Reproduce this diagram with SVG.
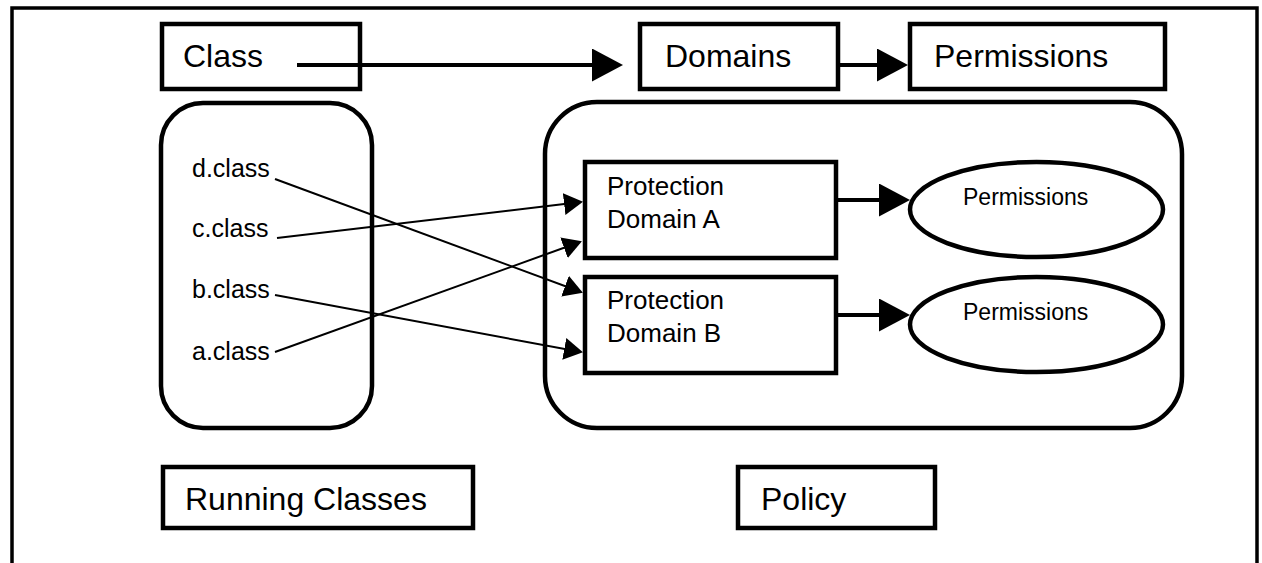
<svg xmlns="http://www.w3.org/2000/svg" width="1262" height="563" viewBox="0 0 1262 563">
  <style>
    .box { fill: #fff; stroke: #000; stroke-width: 4.5; }
    .rbox { fill: #fff; stroke: #000; stroke-width: 4.5; }
    .ell { fill: #fff; stroke: #000; stroke-width: 4.5; }
    .big { font-family: "Liberation Sans", Arial, sans-serif; font-size: 32px; fill: #000; }
    .mid { font-family: "Liberation Sans", Arial, sans-serif; font-size: 26px; fill: #000; }
    .sm { font-family: "Liberation Sans", Arial, sans-serif; font-size: 23px; fill: #000; }
    .cls { font-family: "Liberation Sans", Arial, sans-serif; font-size: 25px; fill: #000; }
    .thick { stroke: #000; stroke-width: 4; fill: none; marker-end: url(#bigArrow); }
    .thin { stroke: #000; stroke-width: 2; fill: none; marker-end: url(#smallArrow); }
  </style>
  <defs>
    <marker id="bigArrow" markerUnits="userSpaceOnUse" markerWidth="31" markerHeight="33" refX="27" refY="16.5" orient="auto">
      <path d="M0,0 L31,16.5 L0,33 Z" fill="#000"/>
    </marker>
    <marker id="smallArrow" markerUnits="userSpaceOnUse" markerWidth="19" markerHeight="22" refX="17" refY="11" orient="auto">
      <path d="M0,0 L19,11 L0,22 Z" fill="#000"/>
    </marker>
  </defs>
  <rect x="0" y="0" width="1262" height="563" fill="#fff"/>
  <g id="frame">
    <rect x="12" y="8" width="1245" height="620" fill="none" stroke="#000" stroke-width="3.5"/>
  </g>
  <g id="running-classes-container">
    <rect class="rbox" x="161" y="103" width="211" height="325" rx="42" ry="42"/>
  </g>
  <g id="policy-container">
    <rect class="rbox" x="545" y="102" width="637" height="326" rx="52" ry="52"/>
  </g>
  <g id="class">
    <rect class="box" x="162" y="24" width="198" height="65"/>
    <text class="big" x="183" y="67">Class</text>
  </g>
  <g id="domains">
    <rect class="box" x="640" y="24" width="198" height="65"/>
    <text class="big" x="665" y="67">Domains</text>
  </g>
  <g id="permissions">
    <rect class="box" x="910" y="24" width="255" height="65"/>
    <text class="big" x="934" y="67">Permissions</text>
  </g>
  <g id="classes">
    <text class="cls" x="192" y="177">d.class</text>
    <text class="cls" x="192" y="237">c.class</text>
    <text class="cls" x="192" y="298">b.class</text>
    <text class="cls" x="192" y="360">a.class</text>
  </g>
  <g id="domain-a">
    <rect class="box" x="585" y="162" width="251" height="96"/>
    <text class="mid" x="607" y="195">Protection</text>
    <text class="mid" x="607" y="228">Domain A</text>
  </g>
  <g id="domain-b">
    <rect class="box" x="585" y="277" width="251" height="96"/>
    <text class="mid" x="607" y="309">Protection</text>
    <text class="mid" x="607" y="342">Domain B</text>
  </g>
  <g id="permissions-a">
    <ellipse class="ell" cx="1036.5" cy="209.5" rx="126.5" ry="47.5"/>
    <text class="sm" x="963" y="205">Permissions</text>
  </g>
  <g id="permissions-b">
    <ellipse class="ell" cx="1036.5" cy="324.5" rx="126.5" ry="47.5"/>
    <text class="sm" x="963" y="320">Permissions</text>
  </g>
  <g id="running-classes">
    <rect class="box" x="163" y="467" width="310" height="61"/>
    <text class="big" x="185" y="510">Running Classes</text>
  </g>
  <g id="policy">
    <rect class="box" x="738" y="467" width="197" height="61"/>
    <text class="big" x="761" y="510">Policy</text>
  </g>
  <g id="connectors">
    <line class="thick" x1="297" y1="65" x2="619" y2="65"/>
    <line class="thick" x1="838" y1="65" x2="904" y2="65"/>
    <line class="thick" x1="836" y1="200" x2="906" y2="200"/>
    <line class="thick" x1="836" y1="315" x2="906" y2="315"/>
    <line class="thin" x1="275" y1="179" x2="581" y2="292"/>
    <line class="thin" x1="277" y1="238" x2="581" y2="202"/>
    <line class="thin" x1="275" y1="295" x2="581" y2="352"/>
    <line class="thin" x1="275" y1="352" x2="580" y2="242"/>
  </g>
</svg>
